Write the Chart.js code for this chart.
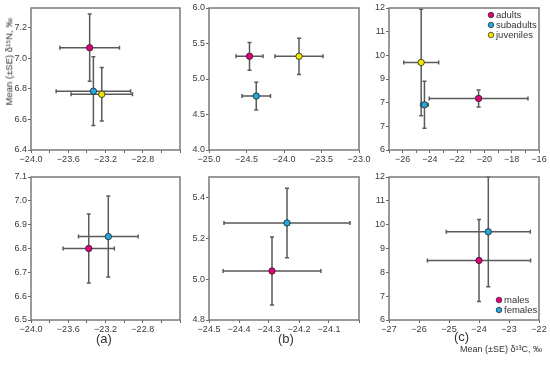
<!DOCTYPE html>
<html>
<head>
<meta charset="utf-8">
<script src="https://cdn.jsdelivr.net/npm/chart.js@4.4.0/dist/chart.umd.min.js"></script>
<style>
  body { margin: 0; background: #fff; }
  #wrap { position: relative; width: 550px; height: 366px; font-family: "Liberation Sans", Arial, sans-serif; color: #333; }
  canvas { position: absolute; left: 0; top: 0; pointer-events: none; }
  .lbl { position: absolute; white-space: nowrap; line-height: 1; }
</style>
</head>
<body>
<div id="wrap">
  <canvas id="p1" width="550" height="366"></canvas>
  <canvas id="p2" width="550" height="366"></canvas>
  <canvas id="p3" width="550" height="366"></canvas>
  <canvas id="p4" width="550" height="366"></canvas>
  <canvas id="p5" width="550" height="366"></canvas>
  <canvas id="p6" width="550" height="366"></canvas>
  <div class="lbl" style="left:-41px;top:57px;width:100px;text-align:center;font-size:9.5px;transform:rotate(-90deg);">Mean (±SE) δ¹⁵N, ‰</div>
  <div class="lbl" style="left:460px;top:345px;font-size:9px;">Mean (±SE) δ¹³C, ‰</div>
  <div class="lbl" style="left:96px;top:332px;font-size:13px;">(a)</div>
  <div class="lbl" style="left:278px;top:332px;font-size:13px;">(b)</div>
  <div class="lbl" style="left:454px;top:330px;font-size:13px;">(c)</div>
</div>
<script>
// groups and colours
const ageGroups = ["adults", "subadults", "juveniles"];
const sexGroups = ["males", "females"];
const ageColors = ["#e4007c", "#22a8dc", "#f2e600"];
const sexColors = ["#e4007c", "#22a8dc"];

// (a) top: age groups, d13C / d15N means and SE
const aAgeC = [-23.37, -23.33, -23.24];
const aAgeCse = [0.32, 0.40, 0.33];
const aAgeN = [7.07, 6.785, 6.765];
const aAgeNse = [0.22, 0.225, 0.175];
// (b) top
const bAgeC = [-24.46, -24.37, -23.80];
const bAgeCse = [0.18, 0.19, 0.32];
const bAgeN = [5.32, 4.76, 5.32];
const bAgeNse = [0.195, 0.195, 0.255];
// (c) top
const cAgeC = [-20.43, -24.40, -24.64];
const cAgeCse = [3.62, 0.28, 1.28];
const cAgeN = [8.18, 7.91, 9.70];
const cAgeNse = [0.36, 0.99, 2.25];

// (a) bottom: sexes
const aSexC = [-23.38, -23.17];
const aSexCse = [0.275, 0.32];
const aSexN = [6.80, 6.85];
const aSexNse = [0.145, 0.17];
// (b) bottom
const bSexC = [-24.29, -24.24];
const bSexCse = [0.163, 0.21];
const bSexN = [5.04, 5.275];
const bSexNse = [0.166, 0.17];
// (c) bottom
const cSexC = [-24.00, -23.69];
const cSexCse = [1.72, 1.40];
const cSexN = [8.50, 9.70];
const cSexNse = [1.72, 2.30];

// axis ticks and labels
const xTicksA = [-24.0, -23.8, -23.6, -23.4, -23.2, -23.0, -22.8, -22.6, -22.4];
const xLabelsA = ["−24.0", "", "−23.6", "", "−23.2", "", "−22.8", "", ""];
const yTicksAtop = [6.4, 6.6, 6.8, 7.0, 7.2];
const yLabelsAtop = ["6.4", "6.6", "6.8", "7.0", "7.2"];
const xTicksBtop = [-25.0, -24.5, -24.0, -23.5, -23.0];
const xLabelsBtop = ["−25.0", "−24.5", "−24.0", "−23.5", "−23.0"];
const yTicksBtop = [4.0, 4.5, 5.0, 5.5, 6.0];
const yLabelsBtop = ["4.0", "4.5", "5.0", "5.5", "6.0"];
const xTicksCtop = [-27, -26, -25, -24, -23, -22, -21, -20, -19, -18, -17, -16];
const xLabelsCtop = ["", "−26", "", "−24", "", "−22", "", "−20", "", "−18", "", "−16"];
const yTicksC = [6, 7, 8, 9, 10, 11, 12];
const yLabelsCtop = ["6", "7", "7", "9", "10", "11", "12"];
const yTicksAbot = [6.5, 6.6, 6.7, 6.8, 6.9, 7.0, 7.1];
const yLabelsAbot = ["6.5", "6.6", "6.7", "6.8", "6.9", "7.0", "7.1"];
const xTicksBbot = [-24.5, -24.4, -24.3, -24.2, -24.1, -24.0];
const xLabelsBbot = ["−24.5", "−24.4", "−24.3", "−24.2", "−24.1", ""];
const yTicksBbot = [4.8, 5.0, 5.2, 5.4];
const yLabelsBbot = ["4.8", "5.0", "5.2", "5.4"];
const xTicksCbot = [-27, -26, -25, -24, -23, -22];
const xLabelsCbot = ["−27", "−26", "−25", "−24", "−23", "−22"];
const yLabelsCbot = ["6", "7", "8", "9", "10", "11", "12"];

const FONT = "'Liberation Sans', Arial, sans-serif";

// plot boxes in page pixels
const cols = [[31, 180], [209, 359], [389, 539]];
const rows = [[8, 150], [177, 320]];

const errorBars = {
  id: "errorBars",
  beforeDatasetsDraw(chart) {
    const { ctx } = chart;
    const x = chart.scales.x, y = chart.scales.y;
    ctx.save();
    ctx.strokeStyle = "#5a5a5a";
    ctx.lineWidth = 1.5;
    const cap = 2;
    chart.data.datasets.forEach(ds => {
      ds.data.forEach(p => {
        const px = x.getPixelForValue(p.x), py = y.getPixelForValue(p.y);
        const x0 = x.getPixelForValue(p.x - p.xe), x1 = x.getPixelForValue(p.x + p.xe);
        const y0 = y.getPixelForValue(p.y - p.ye), y1 = y.getPixelForValue(p.y + p.ye);
        ctx.beginPath();
        ctx.moveTo(x0, py); ctx.lineTo(x1, py);
        ctx.moveTo(x0, py - cap); ctx.lineTo(x0, py + cap);
        ctx.moveTo(x1, py - cap); ctx.lineTo(x1, py + cap);
        ctx.moveTo(px, y0); ctx.lineTo(px, y1);
        ctx.moveTo(px - cap, y0); ctx.lineTo(px + cap, y0);
        ctx.moveTo(px - cap, y1); ctx.lineTo(px + cap, y1);
        ctx.stroke();
      });
    });
    ctx.restore();
  }
};

const frame = {
  id: "frame",
  afterDraw(chart) {
    const { ctx, chartArea: a } = chart;
    ctx.save();
    ctx.strokeStyle = "#7a7a7a";
    ctx.lineWidth = 1.5;
    ctx.strokeRect(a.left, a.top, a.right - a.left, a.bottom - a.top);
    ctx.restore();
  }
};

const keyBox = {
  id: "keyBox",
  afterDraw(chart, args, opts) {
    if (!opts.show) return;
    const { ctx, chartArea: a } = chart;
    ctx.save();
    ctx.font = "9.5px " + FONT;
    ctx.textBaseline = "middle";
    chart.data.datasets.forEach((ds, i) => {
      const cx = a.right - opts.dx;
      const cy = (opts.fromBottom ? a.bottom - opts.dy : a.top + opts.dy) + i * opts.gap;
      ctx.beginPath();
      ctx.arc(cx, cy, 2.8, 0, Math.PI * 2);
      ctx.fillStyle = ds.backgroundColor;
      ctx.fill();
      ctx.lineWidth = 0.7;
      ctx.strokeStyle = "#222";
      ctx.stroke();
      ctx.fillStyle = "#333";
      ctx.fillText(ds.label, cx + 5, cy + 0.5);
    });
    ctx.restore();
  }
};

function makeDatasets(names, colors, c, cse, n, nse) {
  return names.map((name, i) => ({
    label: name,
    data: [{ x: c[i], y: n[i], xe: cse[i], ye: nse[i] }],
    backgroundColor: colors[i],
    borderColor: "#222",
    borderWidth: 0.8,
    pointRadius: 3.2
  }));
}

function axis(min, max, ticks, labels, horizontal) {
  return {
    type: "linear",
    min: min,
    max: max,
    afterBuildTicks: s => { s.ticks = ticks.map(v => ({ value: v })); },
    afterFit: s => {
      if (horizontal) { s.height = 20; s.paddingLeft = 0; s.paddingRight = 0; }
      else { s.width = 30; s.paddingTop = 0; s.paddingBottom = 0; }
    },
    grid: { display: true, drawOnChartArea: false, drawTicks: true, tickLength: 3, color: "#666", lineWidth: 1 },
    border: { display: false },
    ticks: {
      autoSkip: false,
      maxRotation: 0,
      padding: horizontal ? 1 : 1,
      color: "#3a3a3a",
      font: { family: FONT, size: 9 },
      callback: (v, i) => labels[i]
    }
  };
}

function panel(id, col, row, datasets, xs, ys, key) {
  const [l, r] = cols[col], [t, b] = rows[row];
  new Chart(document.getElementById(id), {
    type: "scatter",
    data: { datasets: datasets },
    options: {
      responsive: false,
      animation: false,
      events: [],
      layout: { padding: { left: l - 30, top: t, right: 550 - r, bottom: 366 - b - 20 } },
      scales: { x: xs, y: ys },
      plugins: { legend: { display: false }, tooltip: { enabled: false }, keyBox: key || { show: false } }
    },
    plugins: [errorBars, frame, keyBox]
  });
}

panel("p1", 0, 0, makeDatasets(ageGroups, ageColors, aAgeC, aAgeCse, aAgeN, aAgeNse),
  axis(-24.0, -22.4, xTicksA, xLabelsA, true), axis(6.4, 7.33, yTicksAtop, yLabelsAtop, false));
panel("p2", 1, 0, makeDatasets(ageGroups, ageColors, bAgeC, bAgeCse, bAgeN, bAgeNse),
  axis(-25.0, -23.0, xTicksBtop, xLabelsBtop, true), axis(4.0, 6.0, yTicksBtop, yLabelsBtop, false));
panel("p3", 2, 0, makeDatasets(ageGroups, ageColors, cAgeC, cAgeCse, cAgeN, cAgeNse),
  axis(-27, -16, xTicksCtop, xLabelsCtop, true), axis(6, 12, yTicksC, yLabelsCtop, false),
  { show: true, dx: 48, dy: 7, gap: 10, fromBottom: false });
panel("p4", 0, 1, makeDatasets(sexGroups, sexColors, aSexC, aSexCse, aSexN, aSexNse),
  axis(-24.0, -22.4, xTicksA, xLabelsA, true), axis(6.5, 7.1, yTicksAbot, yLabelsAbot, false));
panel("p5", 1, 1, makeDatasets(sexGroups, sexColors, bSexC, bSexCse, bSexN, bSexNse),
  axis(-24.5, -24.0, xTicksBbot, xLabelsBbot, true), axis(4.8, 5.5, yTicksBbot, yLabelsBbot, false));
panel("p6", 2, 1, makeDatasets(sexGroups, sexColors, cSexC, cSexCse, cSexN, cSexNse),
  axis(-27, -22, xTicksCbot, xLabelsCbot, true), axis(6, 12, yTicksC, yLabelsCbot, false),
  { show: true, dx: 40, dy: 20, gap: 10, fromBottom: true });
</script>
</body>
</html>
